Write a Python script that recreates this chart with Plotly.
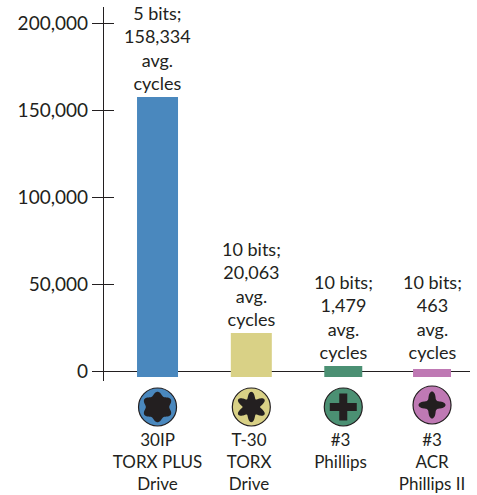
import math
import plotly.graph_objects as go

categories = ["30IP<br>TORX PLUS<br>Drive", "T-30<br>TORX<br>Drive", "#3<br>Phillips", "#3<br>ACR<br>Phillips II"]
bar_tops = [157500, 21900, 2900, 1100]
bits = [5, 10, 10, 10]
avg_cycles = ["158,334", "20,063", "1,479", "463"]
y_ticks = [0, 50000, 100000, 150000, 200000]

colors = ["#4a88be", "#d9d186", "#4b9073", "#bf79b4"]
INK = "#231f20"
FONT = "Lato"
W, H = 477, 495
L, R, T, B = 104, 7, 7, 114
BAR_FLOOR = -3450
YR = [-5747, 209195]
XR = [-0.585, 3.415]
bar_widths = [0.448, 0.448, 0.415, 0.415]
slot_shift = [0, 0.025, 0.03, 0]
label_lift = [0, 0, 0, 1800]
icon_px = [407, 407, 407, 405]


def lobed(r0, amp, sharp, n=180):
    pts = []
    for i in range(n):
        a = 2 * math.pi * i / n
        c = math.cos(6 * a)
        s = math.copysign(abs(c) ** sharp, c)
        r = r0 + amp * s
        pts.append((r * math.sin(a), r * math.cos(a)))
    return "M" + "L".join(f"{x:.2f},{y:.2f}" for x, y in pts) + "Z"


def cross(arm, half):
    p = [(-half, arm), (half, arm), (half, half), (arm, half), (arm, -half), (half, -half),
         (half, -arm), (-half, -arm), (-half, -half), (-arm, -half), (-arm, half), (-half, half)]
    return "M" + "L".join(f"{x},{y}" for x, y in p) + "Z"


def acr(arm, waist, n=160):
    pts = []
    for i in range(n):
        a = 2 * math.pi * i / n
        c = abs(math.cos(2 * a))
        r = waist + (arm - waist) * c ** 3
        pts.append((r * math.cos(a), r * math.sin(a)))
    return "M" + "L".join(f"{x:.2f},{y:.2f}" for x, y in pts) + "Z"


recess = [lobed(13.5, 1.8, 1.0), lobed(12.0, 3.2, 1.0), cross(13.5, 4.0), acr(13.5, 6.5)]

fig = go.Figure(go.Bar(
    x=list(range(4)), y=[t - BAR_FLOOR for t in bar_tops], base=BAR_FLOOR,
    width=bar_widths, offset=[s - w / 2 for s, w in zip(slot_shift, bar_widths)],
    marker=dict(color=colors, line=dict(width=0)), hoverinfo="skip", showlegend=False,
))
# second, overlaid axis only draws the inner half of the crossing ticks
fig.add_trace(go.Scatter(x=[0], y=[0], yaxis="y2", mode="markers", marker=dict(opacity=0),
                         hoverinfo="skip", showlegend=False))

plot_h = H - T - B
shapes, notes = [], []
for i in range(4):
    cx = i + slot_shift[i]
    cy = 1 - (icon_px[i] - T) / plot_h
    base = dict(xref="x", yref="paper", xsizemode="pixel", ysizemode="pixel",
                xanchor=cx, yanchor=cy, layer="above")
    shapes.append(dict(type="circle", x0=-19, x1=19, y0=-19, y1=19, fillcolor=colors[i],
                       line=dict(color=INK, width=1.2), **base))
    shapes.append(dict(type="path", path=recess[i], fillcolor=INK, line=dict(width=0), **base))
    notes.append(dict(
        x=cx, y=max(bar_tops[i], 0) + label_lift[i], xref="x", yref="y", yanchor="bottom", xanchor="center",
        yshift=1, showarrow=False, align="center", font=dict(family=FONT, size=18, color=INK),
        text=f"{bits[i]} bits;<br>{avg_cycles[i]}<br>avg.<br>cycles",
    ))

fig.update_layout(
    width=W, height=H, margin=dict(l=L, r=R, t=T, b=B, pad=0, autoexpand=False), autosize=False,
    paper_bgcolor="white", plot_bgcolor="white", showlegend=False,
    font=dict(family=FONT, size=17, color=INK), shapes=shapes, annotations=notes,
    xaxis=dict(range=XR, tickmode="array", tickvals=list(range(4)), ticktext=categories,
               showgrid=False, zeroline=False, showline=False, ticks="", ticklabelstandoff=47,
               automargin=False, tickfont=dict(family=FONT, size=17, color=INK), fixedrange=True),
    yaxis=dict(range=YR, tickmode="array", tickvals=y_ticks, tickformat=",d", showgrid=False,
               zeroline=True, zerolinecolor=INK, zerolinewidth=1.3, automargin=False,
               showline=True, linecolor=INK, linewidth=1.3, ticks="outside", ticklen=11,
               tickcolor=INK, tickwidth=1.3, tickfont=dict(family=FONT, size=19, color=INK),
               fixedrange=True),
    yaxis2=dict(range=YR, overlaying="y", side="left", tickmode="array", tickvals=y_ticks,
                showticklabels=False, ticks="inside", ticklen=10, tickcolor=INK, tickwidth=1.3,
                showgrid=False, zeroline=False, showline=False, fixedrange=True, automargin=False),
)
fig.write_html("out.html", config=dict(displayModeBar=False),
               post_script="document.body.style.margin='0';document.body.style.overflow='hidden';")
